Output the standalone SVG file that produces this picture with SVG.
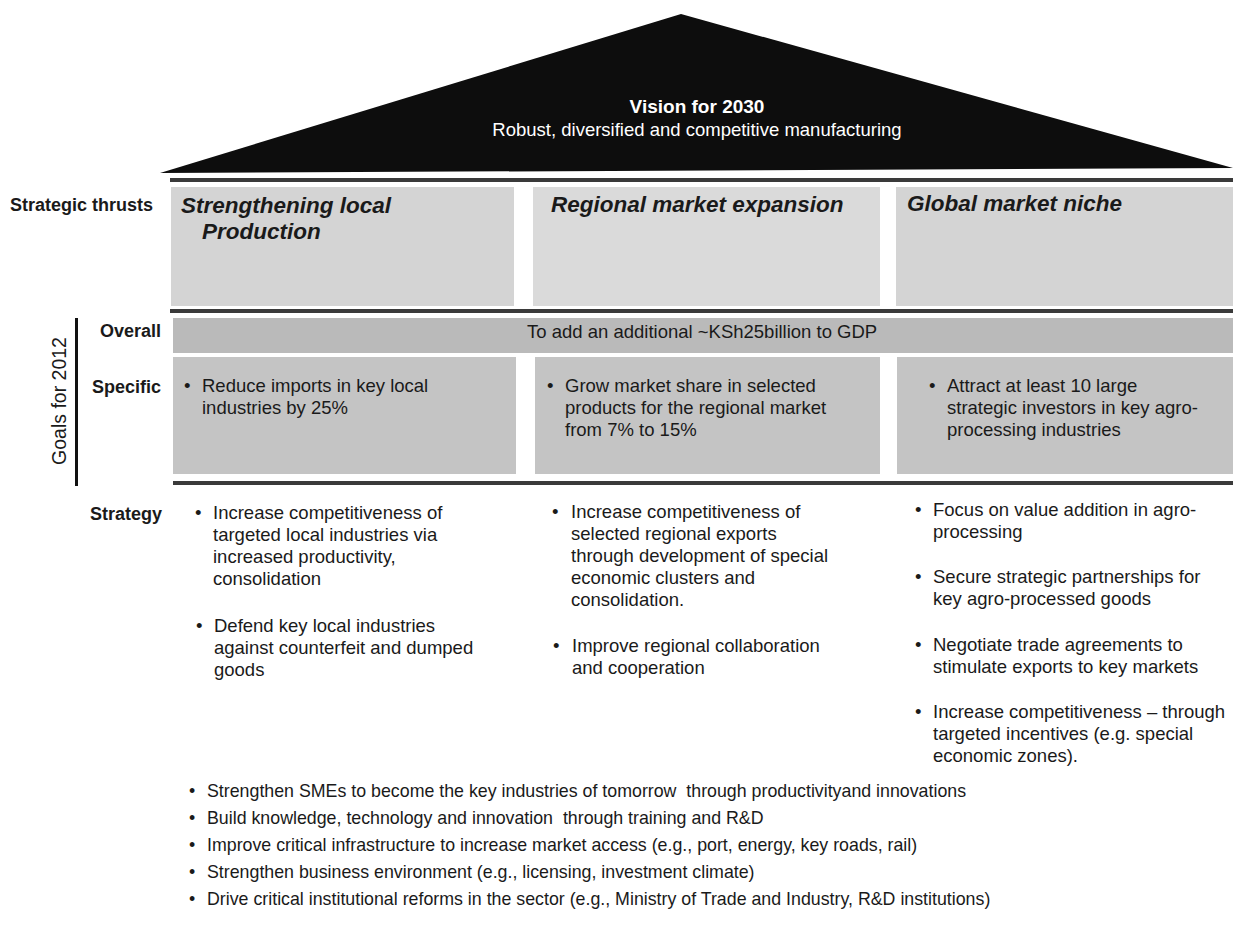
<svg xmlns="http://www.w3.org/2000/svg" width="1233" height="926" viewBox="0 0 1233 926">
<defs>
<style>
text{font-family:"Liberation Sans",Arial,sans-serif;fill:#1a1a1a}
.body{font-size:18.5px}
.low{font-size:17.8px}
.lbl{font-size:18px;font-weight:bold}
.title{font-size:22.5px;font-weight:bold;font-style:italic}
.white{fill:#ffffff}
.sep{fill:#3a3a3a}
.thrust{fill:#d4d4d4}
.overall{fill:#bababa}
.spec{fill:#c4c4c4}
</style>
</defs>
<rect x="0" y="0" width="1233" height="926" fill="#ffffff"/>
<g id="roof">
<polygon points="160,173 681,14 1233,168" fill="#0d0d0d"/>
<text x="697" y="113" text-anchor="middle" class="white" style="font-size:19px;font-weight:bold">Vision for 2030</text>
<text x="697" y="136" text-anchor="middle" class="white body">Robust, diversified and competitive manufacturing</text>
</g>
<g id="connectors">
<rect class="sep" x="170" y="178" width="1063" height="4"/>
<rect class="sep" x="170" y="309" width="1063" height="4"/>
<rect class="sep" x="173" y="481" width="1060" height="4"/>
<rect x="75" y="318" width="3" height="168" fill="#111111"/>
</g>
<g id="labels">
<text x="10" y="211" class="lbl">Strategic thrusts</text>
<text x="161" y="337" text-anchor="end" class="lbl">Overall</text>
<text x="161" y="393" text-anchor="end" class="lbl">Specific</text>
<text x="90" y="520" class="lbl">Strategy</text>
<text transform="translate(66,401) rotate(-90)" text-anchor="middle" style="font-size:19.5px">Goals for 2012</text>
</g>
<g id="thrust-local">
<rect class="thrust" x="171" y="187" width="343" height="119"/>
<text x="181" y="213" class="title">Strengthening local</text>
<text x="202" y="239" class="title">Production</text>
</g>
<g id="thrust-regional">
<rect class="thrust" x="533" y="187" width="347" height="119" style="fill:#dadada"/>
<text x="551" y="212" class="title">Regional market expansion</text>
</g>
<g id="thrust-global">
<rect class="thrust" x="896" y="187" width="337" height="119"/>
<text x="907" y="211" class="title">Global market niche</text>
</g>
<g id="goal-overall">
<rect class="overall" x="173" y="318" width="1060" height="35"/>
<text x="527" y="338" class="body">To add an additional ~KSh25billion to GDP</text>
</g>
<g id="goal-local">
<rect class="spec" x="173" y="357" width="343" height="117"/>
<text x="184" y="392" class="body">•</text>
<text x="202" y="392" class="body">Reduce imports in key local</text>
<text x="202" y="414" class="body">industries by 25%</text>
</g>
<g id="goal-regional">
<rect class="spec" x="535" y="357" width="345" height="117"/>
<text x="547" y="392" class="body">•</text>
<text x="565" y="392" class="body">Grow market share in selected</text>
<text x="565" y="414" class="body">products for the regional market</text>
<text x="565" y="436" class="body">from 7% to 15%</text>
</g>
<g id="goal-global">
<rect class="spec" x="897" y="357" width="336" height="117"/>
<text x="929" y="392" class="body">•</text>
<text x="947" y="392" class="body">Attract at least 10 large</text>
<text x="947" y="414" class="body">strategic investors in key agro-</text>
<text x="947" y="436" class="body">processing industries</text>
</g>
<g id="strategy-local">
<text x="195" y="519" class="body">•</text>
<text x="213" y="519" class="body">Increase competitiveness of</text>
<text x="213" y="541" class="body">targeted local industries via</text>
<text x="213" y="563" class="body">increased productivity,</text>
<text x="213" y="585" class="body">consolidation</text>
<text x="196" y="632" class="body">•</text>
<text x="214" y="632" class="body">Defend key local industries</text>
<text x="214" y="654" class="body">against counterfeit and dumped</text>
<text x="214" y="676" class="body">goods</text>
</g>
<g id="strategy-regional">
<text x="552" y="518" class="body">•</text>
<text x="571" y="518" class="body">Increase competitiveness of</text>
<text x="571" y="540" class="body">selected regional exports</text>
<text x="571" y="562" class="body">through development of special</text>
<text x="571" y="584" class="body">economic clusters and</text>
<text x="571" y="606" class="body">consolidation.</text>
<text x="553" y="652" class="body">•</text>
<text x="572" y="652" class="body">Improve regional collaboration</text>
<text x="572" y="674" class="body">and cooperation</text>
</g>
<g id="strategy-global">
<text x="915" y="516" class="body">•</text>
<text x="933" y="516" class="body">Focus on value addition in agro-</text>
<text x="933" y="538" class="body">processing</text>
<text x="915" y="583" class="body">•</text>
<text x="933" y="583" class="body">Secure strategic partnerships for</text>
<text x="933" y="605" class="body">key agro-processed goods</text>
<text x="915" y="651" class="body">•</text>
<text x="933" y="651" class="body">Negotiate trade agreements to</text>
<text x="933" y="673" class="body">stimulate exports to key markets</text>
<text x="915" y="718" class="body">•</text>
<text x="933" y="718" class="body">Increase competitiveness – through</text>
<text x="933" y="740" class="body">targeted incentives (e.g. special</text>
<text x="933" y="762" class="body">economic zones).</text>
</g>
<g id="cross-cutting">
<text x="189" y="797" class="low">•</text>
<text x="207" y="797" class="low">Strengthen SMEs to become the key industries of tomorrow&#160; through productivityand innovations</text>
<text x="189" y="824" class="low">•</text>
<text x="207" y="824" class="low">Build knowledge, technology and innovation&#160; through training and R&amp;D</text>
<text x="189" y="851" class="low">•</text>
<text x="207" y="851" class="low">Improve critical infrastructure to increase market access (e.g., port, energy, key roads, rail)</text>
<text x="189" y="878" class="low">•</text>
<text x="207" y="878" class="low">Strengthen business environment (e.g., licensing, investment climate)</text>
<text x="189" y="905" class="low">•</text>
<text x="207" y="905" class="low">Drive critical institutional reforms in the sector (e.g., Ministry of Trade and Industry, R&amp;D institutions)</text>
</g>
</svg>
